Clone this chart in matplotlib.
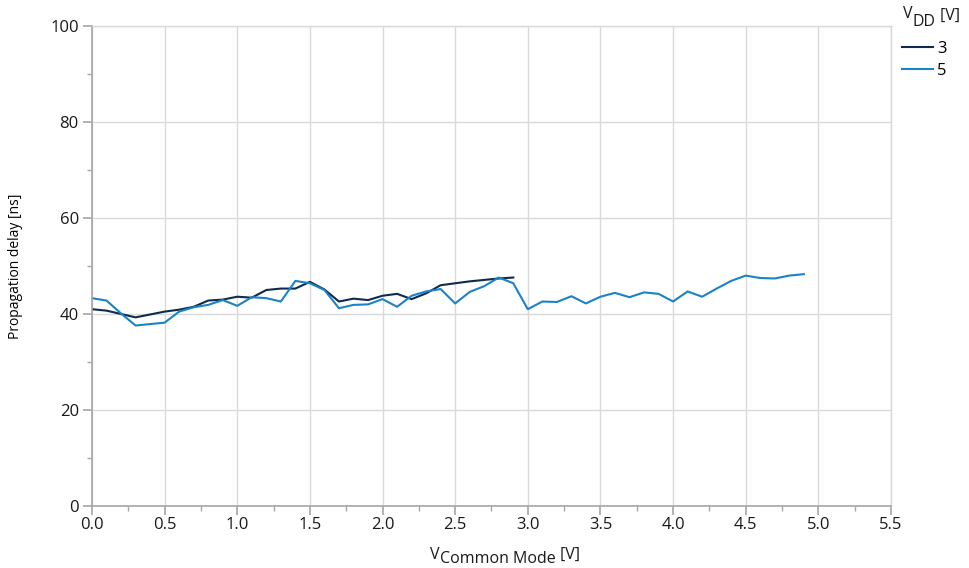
import numpy as np
import matplotlib
matplotlib.use("Agg")
import matplotlib.pyplot as plt
from matplotlib.ticker import MultipleLocator
from matplotlib.transforms import IdentityTransform

plt.rcParams["font.family"] = ["Open Sans", "DejaVu Sans"]

# propagation delay [ns] vs common mode voltage [V]
v_cm_3 = np.round(np.arange(0.0, 2.91, 0.1), 1)
delay_3 = [41.0, 40.7, 40.0, 39.3, 39.9, 40.5, 40.9, 41.5, 42.8, 43.0,
           43.6, 43.4, 45.0, 45.3, 45.3, 46.7, 45.1, 42.6, 43.2, 42.9,
           43.8, 44.2, 43.1, 44.3, 46.0, 46.4, 46.8, 47.1, 47.4, 47.6]

v_cm_5 = np.round(np.arange(0.0, 4.91, 0.1), 1)
delay_5 = [43.3, 42.8, 40.1, 37.6, 37.9, 38.2, 40.5, 41.4, 41.9, 42.9,
           41.7, 43.5, 43.3, 42.6, 46.9, 46.4, 45.0, 41.2, 41.9, 42.0,
           43.1, 41.5, 43.8, 44.7, 45.2, 42.2, 44.6, 45.8, 47.6, 46.4,
           41.0, 42.6, 42.5, 43.7, 42.2, 43.6, 44.4, 43.5, 44.5, 44.2,
           42.6, 44.7, 43.6, 45.3, 46.9, 48.0, 47.5, 47.4, 48.0, 48.3]

series = [("3", v_cm_3, delay_3, "#0d2b4e"),
          ("5", v_cm_5, delay_5, "#1a83c7")]

W, H = 970, 568
fig = plt.figure(figsize=(W / 100, H / 100), dpi=100)
ax = fig.add_axes([92 / W, 1 - 506 / H, (891 - 92) / W, (506 - 26) / H])

for name, x, y, col in series:
    ax.plot(x, y, color=col, lw=1.5, label=name)

ax.set_xlim(0, 5.5)
ax.set_ylim(0, 100)
ax.xaxis.set_major_locator(MultipleLocator(0.5))
ax.xaxis.set_minor_locator(MultipleLocator(0.25))
ax.yaxis.set_major_locator(MultipleLocator(20))
ax.yaxis.set_minor_locator(MultipleLocator(10))
ax.xaxis.set_major_formatter(plt.FuncFormatter(lambda v, p: f"{v:.1f}"))

ax.grid(which="major", color="#d9d9d9", lw=1)
ax.set_axisbelow(True)
for s in ["left", "bottom"]:
    ax.spines[s].set_color("#a6a6a6")
    ax.spines[s].set_linewidth(1.2)
for s in ["top", "right"]:
    ax.spines[s].set_color("#d9d9d9")
    ax.spines[s].set_linewidth(1)
ax.tick_params(which="major", length=6.5, color="#a6a6a6", width=1.2,
               labelsize=12, labelcolor="#1a1a1a")
ax.tick_params(which="minor", length=3.6, color="#a6a6a6", width=1)
ax.tick_params(axis="x", which="major", pad=1.5)
ax.tick_params(axis="y", which="major", pad=3)

ax.set_ylabel("Propagation delay [ns]", fontsize=10)
ax.yaxis.set_label_coords(-0.086, 0.5)

ax.legend(loc="upper left", bbox_to_anchor=(902 / W, 1 - 40.7 / H),
          bbox_transform=fig.transFigure, frameon=False, fontsize=12,
          handlelength=1.86, handletextpad=0.24, labelspacing=0.38,
          borderpad=0, borderaxespad=0)


def sub_text(x, y, parts, size, center=False):
    # parts: (text, baseline drop in px); drawn left to right in pixel coords
    r = fig.canvas.get_renderer()
    made = []
    for s, dy in parts:
        t = fig.text(0, 0, s, fontsize=size, transform=IdentityTransform(),
                     va="baseline", ha="left", color="#1a1a1a")
        made.append((t, dy, t.get_window_extent(r).width))
    total = sum(w for _, _, w in made)
    cx = x - total / 2 if center else x
    for t, dy, w in made:
        t.set_position((cx, H - y - dy))
        cx += w


sub_text(505, 559, [("V", 0), ("Common Mode", 4), (" [V]", 0)], 11.5, center=True)
sub_text(903, 18.5, [("V", 0), ("DD", 8), (" [V]", 1)], 11.5)

fig.savefig("out.png", dpi=100)
